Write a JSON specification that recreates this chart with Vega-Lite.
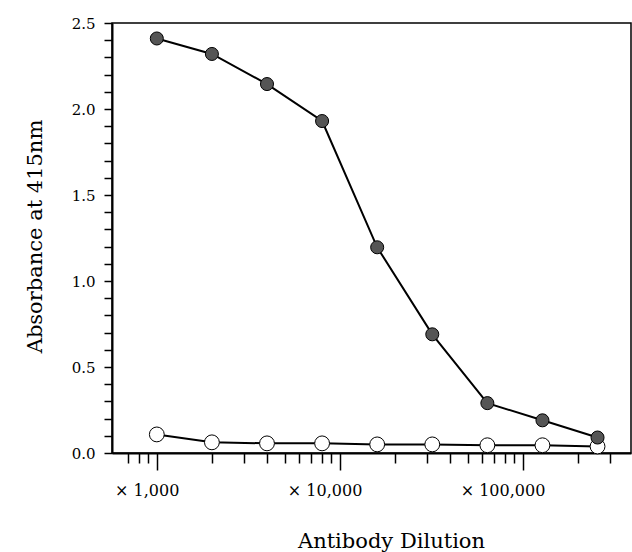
{
  "$schema": "https://vega.github.io/schema/vega-lite/v6.json",
  "width": 519,
  "height": 430,
  "padding": {"left": 112, "top": 23, "right": 1, "bottom": 99},
  "autosize": {"type": "none"},
  "background": "white",
  "config": {
    "view": {"stroke": "black", "strokeWidth": 1.5},
    "font": "DejaVu Serif"
  },
  "data": {
    "values": [
      {"dilution": 1000, "absorbance": 2.41, "series": "immune"},
      {"dilution": 2000, "absorbance": 2.32, "series": "immune"},
      {"dilution": 4000, "absorbance": 2.145, "series": "immune"},
      {"dilution": 8000, "absorbance": 1.93, "series": "immune"},
      {"dilution": 16000, "absorbance": 1.196, "series": "immune"},
      {"dilution": 32000, "absorbance": 0.69, "series": "immune"},
      {"dilution": 64000, "absorbance": 0.29, "series": "immune"},
      {"dilution": 128000, "absorbance": 0.19, "series": "immune"},
      {"dilution": 256000, "absorbance": 0.09, "series": "immune"},
      {"dilution": 1000, "absorbance": 0.108, "series": "control"},
      {"dilution": 2000, "absorbance": 0.062, "series": "control"},
      {"dilution": 4000, "absorbance": 0.056, "series": "control"},
      {"dilution": 8000, "absorbance": 0.056, "series": "control"},
      {"dilution": 16000, "absorbance": 0.05, "series": "control"},
      {"dilution": 32000, "absorbance": 0.05, "series": "control"},
      {"dilution": 64000, "absorbance": 0.045, "series": "control"},
      {"dilution": 128000, "absorbance": 0.045, "series": "control"},
      {"dilution": 256000, "absorbance": 0.038, "series": "control"}
    ]
  },
  "encoding": {
    "x": {
      "field": "dilution",
      "type": "quantitative",
      "scale": {"type": "log", "domain": [569, 390000], "nice": false, "zero": false},
      "axis": {
        "title": "Antibody Dilution",
        "titleFont": "DejaVu Serif",
        "titleFontSize": 21,
        "titleFontWeight": "normal",
        "titleColor": "black",
        "titleX": 279,
        "titleY": 94,
        "titleBaseline": "alphabetic",
        "values": [700, 800, 900, 1000, 2000, 3000, 4000, 5000, 6000, 7000, 8000, 9000, 10000, 20000, 30000, 40000, 50000, 60000, 70000, 80000, 90000, 100000, 200000, 300000],
        "labelExpr": "datum.value == 1000 ? '× 1,000' : datum.value == 10000 ? '× 10,000' : datum.value == 100000 ? '× 100,000' : ''",
        "labelFontSize": 16,
        "labelColor": "black",
        "labelAlign": "right",
        "labelOffset": 22,
        "labelPadding": 12,
        "labelFlush": false,
        "labelOverlap": false,
        "grid": false,
        "domainColor": "black",
        "domainWidth": 2,
        "tickColor": "black",
        "tickWidth": 1.5,
        "tickSize": {"condition": {"test": "datum.value == 1000 || datum.value == 10000 || datum.value == 100000", "value": 17}, "value": 10}
      }
    },
    "y": {
      "field": "absorbance",
      "type": "quantitative",
      "scale": {"domain": [0, 2.5], "nice": false},
      "axis": {
        "title": "Absorbance at 415nm",
        "titleFont": "DejaVu Serif",
        "titleFontSize": 21,
        "titleFontWeight": "normal",
        "titleColor": "black",
        "titleX": -71,
        "titleY": 213,
        "titleBaseline": "alphabetic",
        "values": [0, 0.1, 0.2, 0.3, 0.4, 0.5, 0.6, 0.7, 0.8, 0.9, 1.0, 1.1, 1.2, 1.3, 1.4, 1.5, 1.6, 1.7, 1.8, 1.9, 2.0, 2.1, 2.2, 2.3, 2.4, 2.5],
        "labelExpr": "abs(datum.value * 2 - round(datum.value * 2)) < 0.001 ? format(datum.value, '.1f') : ''",
        "labelFontSize": 15,
        "labelColor": "black",
        "labelPadding": 9,
        "labelFlush": false,
        "labelOverlap": false,
        "grid": false,
        "domainColor": "black",
        "domainWidth": 2,
        "tickColor": "black",
        "tickWidth": 1.5,
        "tickSize": 8
      }
    },
    "detail": {"field": "series"}
  },
  "layer": [
    {
      "mark": {"type": "line", "color": "black", "strokeWidth": 2},
      "encoding": {"order": {"field": "series", "sort": "ascending"}}
    },
    {
      "transform": [{"filter": "datum.series == 'control'"}],
      "mark": {"type": "point", "filled": false, "fill": "white", "fillOpacity": 1, "stroke": "black", "strokeWidth": 1, "size": 220, "opacity": 1}
    },
    {
      "transform": [{"filter": "datum.series == 'immune'"}],
      "mark": {"type": "point", "filled": true, "fill": "#555555", "stroke": "black", "strokeWidth": 1, "size": 170, "opacity": 1}
    }
  ]
}
